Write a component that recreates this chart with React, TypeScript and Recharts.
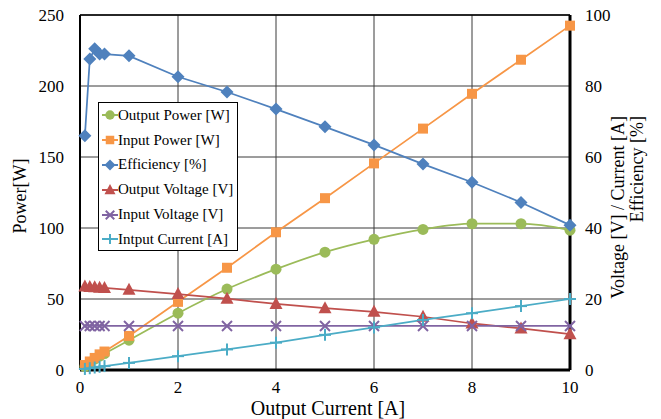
import React from "react";
import { ComposedChart, Line, XAxis, YAxis, CartesianGrid, ReferenceLine, Label } from "recharts";

const FONT = "'Liberation Serif', 'Times New Roman', serif";

// output current [A] (x axis)
const current = [0.1, 0.2, 0.3, 0.4, 0.5, 1, 2, 3, 4, 5, 6, 7, 8, 9, 10];
// left axis [W]
const outputPower = [2.3, 5.3, 7.7, 9.8, 11.6, 21, 40, 57, 71, 83, 92, 99, 103, 103, 98.5];
const inputPower = [3.5, 6, 8.5, 11, 13, 24, 48, 72, 97, 121, 145.5, 170, 194.5, 218.5, 242.5];
// right axis [%], [V], [A]
const efficiency = [66, 87.6, 90.5, 89, 89, 88.5, 82.6, 78.3, 73.5, 68.5, 63.4, 58, 52.9, 47.2, 40.8];
const outputVoltage = [23.5, 23.4, 23.3, 23.2, 23.1, 22.6, 21.4, 20.1, 18.6, 17.4, 16.4, 15, 13.1, 11.7, 10.1];
const inputVoltage = [12.4, 12.4, 12.4, 12.4, 12.4, 12.4, 12.4, 12.4, 12.4, 12.4, 12.4, 12.4, 12.4, 12.4, 12.4];
const inputCurrent = [0.3, 0.5, 0.7, 0.9, 1.1, 2, 3.9, 5.8, 7.7, 9.9, 12, 14.1, 16, 18, 20];

const xTicks = [0, 2, 4, 6, 8, 10];
const leftTicks = [0, 50, 100, 150, 200, 250];
const rightTicks = [0, 20, 40, 60, 80, 100];

const data = current.map((c, i) => ({
  current: c,
  outputPower: outputPower[i],
  inputPower: inputPower[i],
  efficiency: efficiency[i],
  outputVoltage: outputVoltage[i],
  inputVoltage: inputVoltage[i],
  inputCurrent: inputCurrent[i],
}));

type Shape = "circle" | "square" | "diamond" | "triangle" | "x" | "plus";

const series: { key: string; name: string; color: string; shape: Shape; axis: string; smooth?: boolean }[] = [
  { key: "outputPower", name: "Output Power [W]", color: "#9BBB59", shape: "circle", axis: "left", smooth: true },
  { key: "inputPower", name: "Input Power [W]", color: "#F79646", shape: "square", axis: "left" },
  { key: "efficiency", name: "Efficiency [%]", color: "#4F81BD", shape: "diamond", axis: "right" },
  { key: "outputVoltage", name: "Output Voltage [V]", color: "#C0504D", shape: "triangle", axis: "right" },
  { key: "inputVoltage", name: "Input Voltage [V]", color: "#8064A2", shape: "x", axis: "right" },
  { key: "inputCurrent", name: "Intput Current [A]", color: "#4BACC6", shape: "plus", axis: "right" },
];

function Marker({ shape, color, cx, cy, s = 1 }: { shape: Shape; color: string; cx: number; cy: number; s?: number }) {
  if (cx == null || cy == null) return null;
  switch (shape) {
    case "circle":
      return <circle cx={cx} cy={cy} r={5.5 * s} fill={color} />;
    case "square":
      return <rect x={cx - 5 * s} y={cy - 5 * s} width={10 * s} height={10 * s} fill={color} />;
    case "diamond": {
      const r = 6.5 * s;
      return <polygon points={`${cx},${cy - r} ${cx + r},${cy} ${cx},${cy + r} ${cx - r},${cy}`} fill={color} />;
    }
    case "triangle": {
      const w = 6.5 * s;
      return <polygon points={`${cx},${cy - 7 * s} ${cx + w},${cy + 5 * s} ${cx - w},${cy + 5 * s}`} fill={color} />;
    }
    case "x": {
      const r = 5 * s;
      return (
        <g stroke={color} strokeWidth={2}>
          <line x1={cx - r} y1={cy - r} x2={cx + r} y2={cy + r} />
          <line x1={cx - r} y1={cy + r} x2={cx + r} y2={cy - r} />
        </g>
      );
    }
    default: {
      const r = 6 * s;
      return (
        <g stroke={color} strokeWidth={2}>
          <line x1={cx - r} y1={cy} x2={cx + r} y2={cy} />
          <line x1={cx} y1={cy - r} x2={cx} y2={cy + r} />
        </g>
      );
    }
  }
}

// tick text drawn directly so the serif font sticks
function SideTick(props: any) {
  const { x, y, payload, textAnchor } = props;
  return (
    <text x={x} y={y} textAnchor={textAnchor} dominantBaseline="central" fontFamily={FONT} fontSize={17} fill="#000">
      {payload.value}
    </text>
  );
}

function BottomTick(props: any) {
  const { x, y, payload } = props;
  return (
    <text x={x} y={y} dy="0.75em" textAnchor="middle" fontFamily={FONT} fontSize={17} fill="#000">
      {payload.value}
    </text>
  );
}

function LegendBox() {
  return (
    <div
      style={{
        position: "absolute",
        left: 98,
        top: 102,
        width: 138,
        height: 147,
        border: "1px solid #000",
        background: "#fff",
        fontFamily: FONT,
        fontSize: 15,
        color: "#000",
      }}
    >
      {series.map((s) => (
        <div key={s.key} style={{ height: 24.8, display: "flex", alignItems: "center" }}>
          <svg width={16} height={16} style={{ marginLeft: 3, flexShrink: 0 }}>
            <line x1={0} y1={8} x2={16} y2={8} stroke={s.color} strokeWidth={2} />
            <Marker shape={s.shape} color={s.color} cx={8} cy={8} s={0.85} />
          </svg>
          <span style={{ whiteSpace: "nowrap" }}>{s.name}</span>
        </div>
      ))}
    </div>
  );
}

export default function App() {
  return (
    <div style={{ position: "absolute", left: 0, top: 0, width: 661, height: 419, background: "#fff", fontFamily: FONT }}>
      <ComposedChart width={661} height={419} data={data} margin={{ top: 15, right: 0, bottom: 0, left: 0 }}>
        <CartesianGrid yAxisId="left" stroke="#3a3a3a" strokeWidth={1} />
        <XAxis
          type="number"
          dataKey="current"
          domain={[0, 10]}
          ticks={xTicks}
          height={49}
          tickLine={false}
          tickSize={0}
          tickMargin={10}
          axisLine={{ stroke: "#000", strokeWidth: 3 }}
          tick={<BottomTick />}
        >
          <Label
            content={() => (
              <text x={328} y={408} textAnchor="middle" dominantBaseline="central" fontFamily={FONT} fontSize={20} fill="#000">
                Output Current [A]
              </text>
            )}
          />
        </XAxis>
        <YAxis
          yAxisId="left"
          width={80}
          domain={[0, 250]}
          ticks={leftTicks}
          tickLine={false}
          tickSize={0}
          tickMargin={16}
          axisLine={{ stroke: "#000", strokeWidth: 2 }}
          tick={<SideTick />}
        >
          <Label
            content={() => (
              <text
                x={20}
                y={196}
                transform="rotate(-90 20 196)"
                textAnchor="middle"
                dominantBaseline="central"
                fontFamily={FONT}
                fontSize={18}
                fill="#000"
              >
                Power[W]
              </text>
            )}
          />
        </YAxis>
        <YAxis
          yAxisId="right"
          orientation="right"
          width={91}
          domain={[0, 100]}
          ticks={rightTicks}
          tickLine={false}
          tickSize={0}
          tickMargin={15}
          axisLine={{ stroke: "#000", strokeWidth: 3 }}
          tick={<SideTick />}
        >
          <Label
            content={() => (
              <g fontFamily={FONT} fontSize={18} fill="#000">
                <text x={618} y={116} transform="rotate(-90 618 116)" textAnchor="end" dominantBaseline="central">
                  Voltage [V] / Current [A]
                </text>
                <text x={637} y={116} transform="rotate(-90 637 116)" textAnchor="end" dominantBaseline="central">
                  Efficiency [%]
                </text>
              </g>
            )}
          />
        </YAxis>
        <ReferenceLine yAxisId="left" y={250} stroke="#000" strokeWidth={1.5} />
        {series.map((s) => (
          <Line
            key={s.key}
            yAxisId={s.axis}
            dataKey={s.key}
            name={s.name}
            type={s.smooth ? "monotone" : "linear"}
            stroke={s.color}
            strokeWidth={1.75}
            isAnimationActive={false}
            dot={(p: any) => (
              <g key={`${s.key}-${p.index}`}>
                <Marker shape={s.shape} color={s.color} cx={p.cx} cy={p.cy} />
              </g>
            )}
            activeDot={false}
          />
        ))}
      </ComposedChart>
      <LegendBox />
    </div>
  );
}
